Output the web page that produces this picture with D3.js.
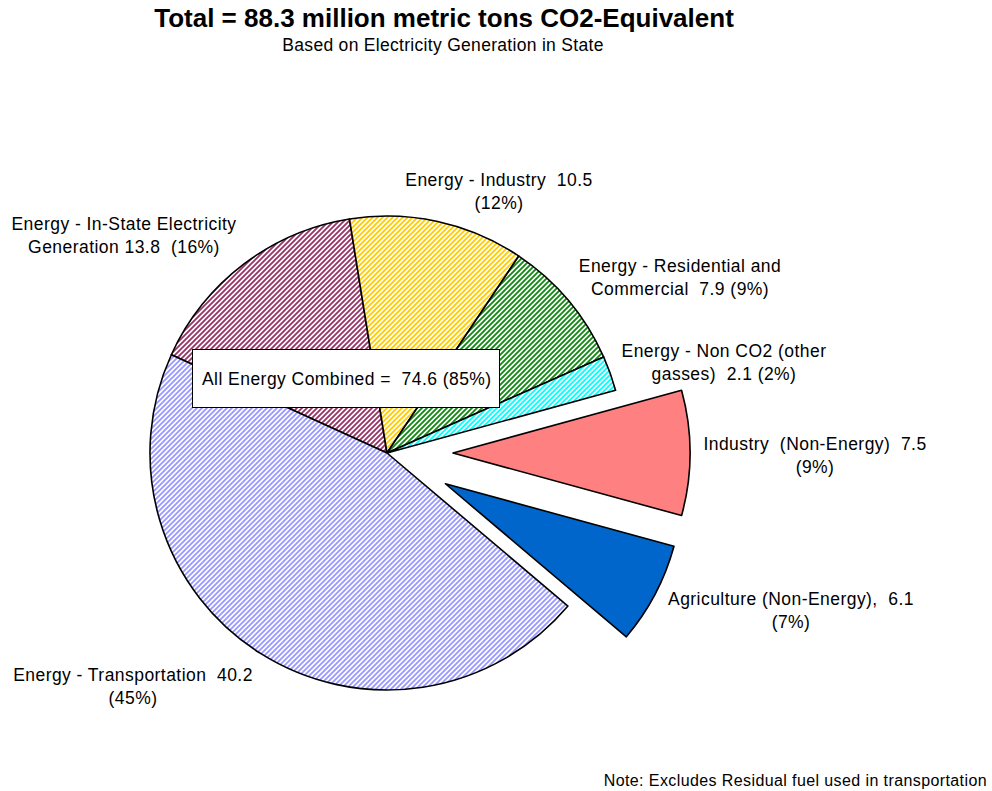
<!DOCTYPE html>
<html>
<head>
<meta charset="utf-8">
<script src="https://cdn.jsdelivr.net/npm/d3@7"></script>
<style>
  html, body { margin: 0; padding: 0; background: #fff; }
  svg { display: block; font-family: Arial, "Liberation Sans", sans-serif; }
  svg text { white-space: pre; }
</style>
</head>
<body>
<svg id="chart" width="992" height="791"></svg>
<script>
// Emission sources (million metric tons CO2-equivalent), in drawing order clockwise
const categories = [
  "Energy - In-State Electricity Generation",
  "Energy - Industry",
  "Energy - Residential and Commercial",
  "Energy - Non CO2 (other gasses)",
  "Industry (Non-Energy)",
  "Agriculture (Non-Energy)",
  "Energy - Transportation"
];
const values = [13.8, 10.5, 7.9, 2.1, 7.5, 6.1, 40.2];
const percentLabels = ["16%", "12%", "9%", "2%", "9%", "7%", "45%"];
const exploded = [false, false, false, false, true, true, false];
const hatched = [true, true, true, true, false, false, true];
const colors = ["#993366", "#FFCC00", "#118811", "#00FFFF", "#FF8080", "#0066CC", "#9999FF"];

// Two-line slice labels
const labelLines = [
  ["Energy - In-State Electricity", "Generation 13.8  (16%)"],
  ["Energy - Industry  10.5", "(12%)"],
  ["Energy - Residential and", "Commercial  7.9 (9%)"],
  ["Energy - Non CO2 (other", "gasses)  2.1 (2%)"],
  ["Industry  (Non-Energy)  7.5", "(9%)"],
  ["Agriculture (Non-Energy),  6.1", "(7%)"],
  ["Energy - Transportation  40.2", "(45%)"]
];

const titleText = "Total = 88.3 million metric tons CO2-Equivalent";
const subtitleText = "Based on Electricity Generation in State";
const noteText = "Note: Excludes Residual fuel used in transportation";
const combinedText = "All Energy Combined =  74.6 (85%)";

// ---- layout ----
const cx = 387, cy = 453, radius = 237, explodeDist = 66;
const startDeg = -65.5;
const labelPos = [
  [124, 230], [499, 186], [680, 272], [724, 357], [815, 450], [791, 605], [133, 681]
];
const lineGap = 22.5;

const svg = d3.select("#chart");
const defs = svg.append("defs");

// Diagonal hatch patterns (colored stripes on white)
const tile = 5;
colors.forEach((c, i) => {
  if (!hatched[i]) return;
  const p = defs.append("pattern")
    .attr("id", "hatch" + i)
    .attr("patternUnits", "userSpaceOnUse")
    .attr("width", tile).attr("height", tile);
  p.append("rect").attr("width", tile).attr("height", tile).attr("fill", "#fff");
  p.append("path")
    .attr("d", `M${-tile / 4},${tile / 4} l${tile / 2},${-tile / 2} M0,${tile} l${tile},${-tile} M${tile * 0.75},${tile * 1.25} l${tile / 2},${-tile / 2}`)
    .attr("stroke", c).attr("stroke-width", 1.85).attr("fill", "none");
});

const data = categories.map((name, i) => ({
  name, value: values[i], color: colors[i], exploded: exploded[i], hatched: hatched[i], idx: i
}));

const start = startDeg * Math.PI / 180;
const pie = d3.pie().value(d => d.value).sort(null)
  .startAngle(start).endAngle(start + 2 * Math.PI);
const arc = d3.arc().innerRadius(0).outerRadius(radius);

const arcs = pie(data);
const g = svg.append("g").attr("transform", `translate(${cx},${cy})`);

g.selectAll("path.slice")
  .data(arcs)
  .join("path")
  .attr("class", "slice")
  .attr("d", arc)
  .attr("transform", d => {
    if (!d.data.exploded) return null;
    const mid = (d.startAngle + d.endAngle) / 2;
    return `translate(${Math.sin(mid) * explodeDist},${-Math.cos(mid) * explodeDist})`;
  })
  .attr("fill", d => d.data.hatched ? `url(#hatch${d.data.idx})` : d.data.color)
  .attr("stroke", "#000")
  .attr("stroke-width", 1.6)
  .attr("stroke-linejoin", "round");

// Slice labels
const labels = svg.append("g")
  .attr("font-size", 17.5).attr("letter-spacing", 0.45)
  .attr("fill", "#000").attr("text-anchor", "middle");
labelLines.forEach((lines, i) => {
  const t = labels.append("text")
    .attr("x", labelPos[i][0]).attr("y", labelPos[i][1]);
  lines.forEach((ln, j) => {
    t.append("tspan").attr("x", labelPos[i][0]).attr("dy", j === 0 ? 0 : lineGap).text(ln);
  });
});

// Combined energy callout box
svg.append("rect")
  .attr("x", 192.5).attr("y", 349.5).attr("width", 307).attr("height", 58)
  .attr("fill", "#fff").attr("stroke", "#000").attr("stroke-width", 1);
svg.append("text")
  .attr("x", 202).attr("y", 385).attr("font-size", 17.5).attr("letter-spacing", 0.45)
  .text(combinedText);

// Titles
svg.append("text")
  .attr("x", 444).attr("y", 27).attr("text-anchor", "middle")
  .attr("font-size", 26).attr("font-weight", "bold").text(titleText);
svg.append("text")
  .attr("x", 443).attr("y", 51).attr("text-anchor", "middle")
  .attr("font-size", 17.5).attr("letter-spacing", 0.3).text(subtitleText);

// Footnote
svg.append("text")
  .attr("x", 987).attr("y", 786).attr("text-anchor", "end")
  .attr("font-size", 16).attr("letter-spacing", 0.4).text(noteText);
</script>
</body>
</html>
